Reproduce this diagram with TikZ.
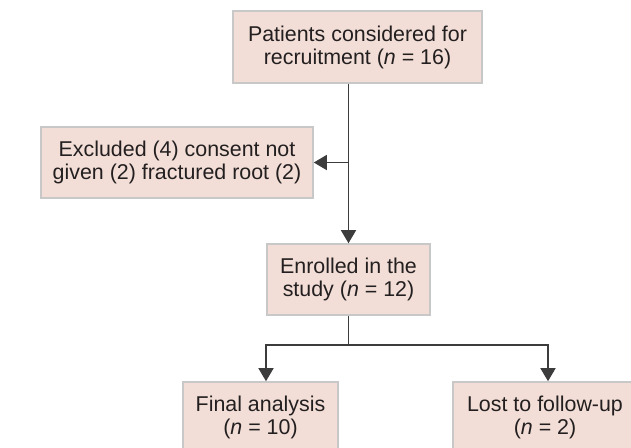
\documentclass[tikz,border=0pt]{standalone}
\usepackage{fontspec}
\setmainfont{Liberation Sans}
\usetikzlibrary{arrows.meta, positioning, calc}
\definecolor{boxfill}{RGB}{242,222,214}
\definecolor{boxline}{RGB}{200,200,200}
\definecolor{txt}{RGB}{35,31,32}
\definecolor{arr}{RGB}{60,60,60}

\begin{document}
\begin{tikzpicture}[x=0.5pt, y=-0.5pt, >={Triangle[length=6.5pt,width=7.5pt]}]
			\tikzstyle{box}=[draw=boxline, line width=0.8pt, fill=boxfill, text=txt, align=center, inner sep=0pt, font=\fontsize{10.7}{11.5}\selectfont]
			\tikzstyle{link}=[draw=arr, line width=0.75pt]
			
			\useasboundingbox (0,0) rectangle (631,447);
			\clip (0,0) rectangle (631,447);
			
			\node[box, minimum width=124.5pt, minimum height=36pt]   (rec)   at (357.5,47)  {Patients considered for\\recruitment (\textit{n} = 16)};
			\node[box, minimum width=136pt, minimum height=35.5pt]   (excl)  at (177,162.5) {Excluded (4) consent not\\given (2) fractured root (2)};
			\node[box, minimum width=81.5pt, minimum height=35.5pt]  (enr)   at (348.5,279.5) {Enrolled in the\\study (\textit{n} = 12)};
			\node[box, minimum width=77.5pt, minimum height=35.5pt]  (fin)   at (260.5,417.5) {Final analysis\\(\textit{n} = 10)};
			\node[box, minimum width=92pt, minimum height=35.5pt]    (lost)  at (545,417.5) {Lost to follow-up\\(\textit{n} = 2)};
			
			\coordinate (split) at ($(enr.south)+(0,29)$);
			
			\draw[link,->] (rec.south -| enr.north) -- (enr.north);
			\draw[link,->] (enr.north |- excl.east) -- (excl.east);
			\draw[link] (enr.south) -- (split);
			\draw[link,->] (split) -| ([xshift=2.75pt]fin.north);
			\draw[link,->] (split) -| ([xshift=1.5pt]lost.north);
		\end{tikzpicture}
\end{document}
